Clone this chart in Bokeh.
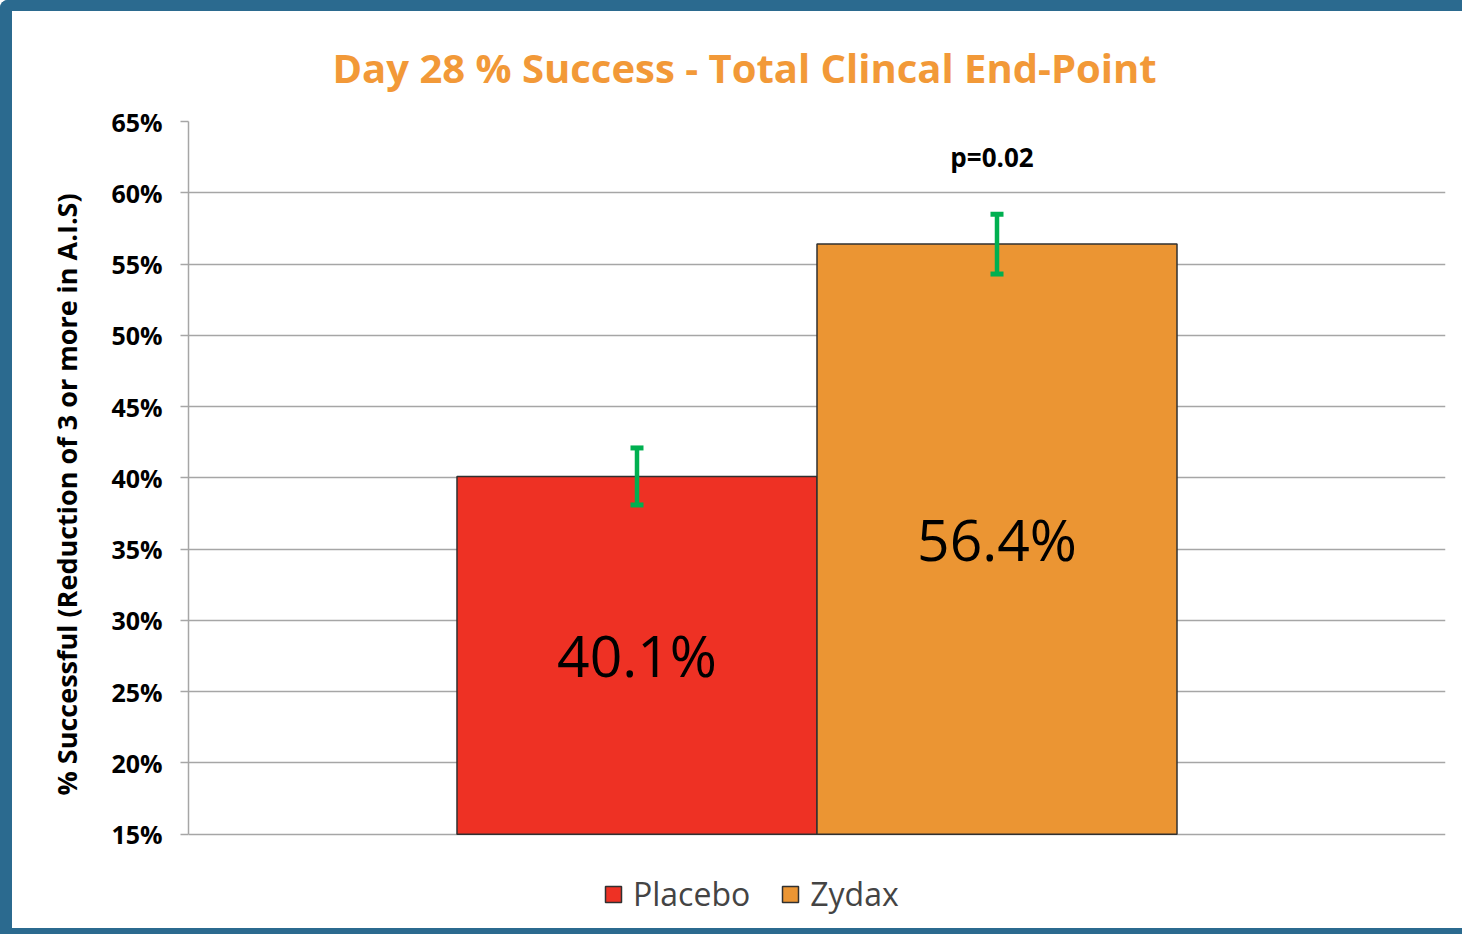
from bokeh.plotting import figure
from bokeh.models import (ColumnDataSource, Range1d, FactorRange, FixedTicker,
                          PrintfTickFormatter, Whisker, TeeHead, Legend, LegendItem, Title)
from bokeh.core.properties import value
from bokeh.embed import file_html
from bokeh.resources import INLINE

# ---- data ----
groups = ["Placebo", "Zydax"]
success = [40.1, 56.4]
err_low = [38.1, 54.3]
err_high = [42.1, 58.5]
bar_colors = ["#ee3124", "#eb9533"]
y_ticks = [15, 20, 25, 30, 35, 40, 45, 50, 55, 60, 65]
y_start, y_end = 15, 65
title_text = "Day 28 % Success - Total Clincal End-Point"
y_label = "% Successful (Reduction of 3 or more  in A.I.S)"
p_value_text = "p=0.02"
p_value_y = 62.5

FONT = "Open Sans"
# extra room below the value axis (in axis units) that holds the legend
legend_room = 6.4

src = ColumnDataSource(dict(
    grp=groups,
    val=success,
    lo=err_low,
    hi=err_high,
    color=bar_colors,
    mid=[(y_start + v) / 2 for v in success],
    lbl=[f"{v:.1f}%" for v in success],
))

p = figure(
    width=1462, height=934,
    x_range=FactorRange(*groups, range_padding=0.7458, range_padding_units="absolute"),
    y_range=Range1d(y_start - legend_room, y_end),
    output_backend="svg", toolbar_location=None,
    min_border_left=176, min_border_right=29, min_border_top=110, min_border_bottom=20,
)
p.styles = {
    "border-left": "12px solid #2b6a8f",
    "border-top": "11px solid #2b6a8f",
    "border-bottom": "6px solid #2b6a8f",
    "border-top-left-radius": "8px",
}

p.title.text = title_text
p.title.text_font = FONT
p.title.text_font_size = "40px"
p.title.text_font_style = "bold"
p.title.text_color = "#f29938"
p.title.align = "left"
p.title.offset = 144
p.title.standoff = 53

p.outline_line_color = None
p.xgrid.grid_line_color = None
p.ygrid.grid_line_color = "#a6a6a6"
p.ygrid.grid_line_width = 1.5

yax = p.yaxis[0]
yax.ticker = FixedTicker(ticks=y_ticks)
yax.bounds = (y_start, y_end)
yax.formatter = PrintfTickFormatter(format="%d%%")
yax.major_label_text_font = FONT
yax.major_label_text_font_size = "25px"
yax.major_label_text_font_style = "bold"
yax.major_label_text_color = "black"
yax.major_tick_in = 0
yax.major_tick_out = 8
yax.major_tick_line_color = "#a6a6a6"
yax.major_tick_line_width = 1.5
yax.minor_tick_line_color = None
yax.axis_line_color = "#a6a6a6"
yax.axis_line_width = 1.5
yax.major_label_standoff = 18

ytitle = Title(text=y_label, align="left", offset=130, standoff=48,
               text_font=FONT, text_font_size="27px", text_font_style="bold",
               text_color="black")
p.add_layout(ytitle, "left")

p.xaxis.visible = False

bars = p.vbar(x="grp", top="val", bottom=y_start, width=1.0, source=src,
              fill_color="color", line_color="#303030", line_width=1.5)

whisk = Whisker(base="grp", lower="lo", upper="hi", source=src, level="overlay",
                line_color="#00b050", line_width=4.5,
                upper_head=TeeHead(size=13, line_color="#00b050", line_width=5),
                lower_head=TeeHead(size=13, line_color="#00b050", line_width=5))
p.add_layout(whisk)

p.text(x="grp", y="mid", text="lbl", source=src, text_align="center",
       text_baseline="middle", text_font=value(FONT), text_font_size="57px",
       text_color="black")

p.text(x=[groups[1]], y=[p_value_y], text=[p_value_text], text_align="center",
       text_baseline="middle", text_font=value(FONT), text_font_size="26px",
       text_font_style="bold", text_color="black", x_offset=-5)

legend = Legend(items=[LegendItem(label=g, renderers=[bars], index=i) for i, g in enumerate(groups)],
                orientation="horizontal", location=(415, 10),
                border_line_color=None, background_fill_alpha=0,
                label_text_font=FONT, label_text_font_size="32px",
                glyph_width=20, glyph_height=20, spacing=30, label_standoff=10,
                padding=0, margin=0)
p.add_layout(legend)

open("out.html", "w").write(file_html(p, INLINE))
